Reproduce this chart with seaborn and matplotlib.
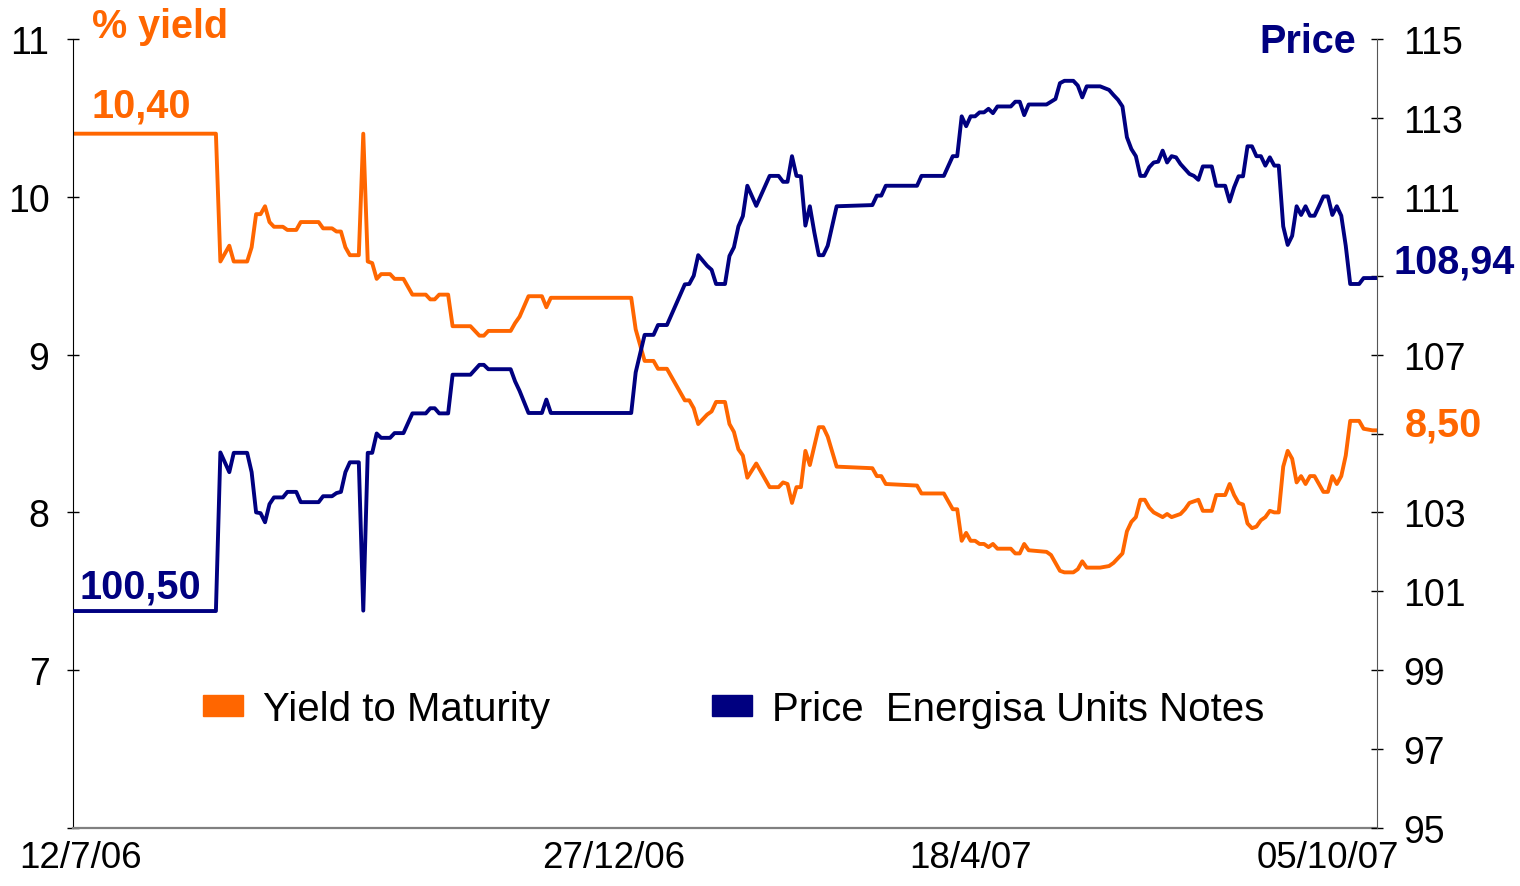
import matplotlib
matplotlib.use("Agg")
import matplotlib.pyplot as plt
from matplotlib.patches import Patch
import seaborn as sns
import pandas as pd

ORANGE = "#FF6600"
NAVY = "#000080"

# trading-day index (0 = 12/7/06) and yield to maturity in %
yield_day = [
    0, 32, 33, 35, 36, 39, 40, 41, 42, 43,
    44, 45, 47, 48, 50, 51, 55, 56, 58, 59,
    60, 61, 62, 64, 65, 66, 67, 68, 69, 71,
    72, 74, 76, 79, 80, 81, 82, 84, 85, 89,
    91, 92, 93, 98, 99, 100, 102, 105, 106, 107,
    125, 126, 127, 128, 130, 131, 133, 137, 138, 139,
    140, 142, 143, 144, 146, 147, 148, 149, 150, 151,
    153, 156, 158, 159, 160, 161, 162, 163, 164, 165,
    167, 168, 169, 171, 179, 180, 181, 182, 189, 190,
    195, 197, 198, 199, 200, 201, 202, 203, 204, 205,
    206, 207, 210, 211, 212, 213, 214, 218, 219, 221,
    222, 224, 225, 226, 227, 230, 232, 233, 234, 235,
    236, 237, 238, 239, 240, 241, 242, 244, 245, 246,
    248, 249, 250, 251, 252, 253, 255, 256, 258, 259,
    260, 261, 262, 263, 264, 265, 266, 267, 268, 269,
    270, 271, 272, 273, 274, 275, 276, 277, 278, 279,
    280, 281, 282, 283, 284, 285, 286, 288, 289, 291,
    292,
]
yield_pct = [
    10.40, 10.40, 9.59, 9.69, 9.59, 9.59, 9.68, 9.89, 9.89, 9.94,
    9.84, 9.81, 9.81, 9.79, 9.79, 9.84, 9.84, 9.80, 9.80, 9.78,
    9.78, 9.68, 9.63, 9.63, 10.40, 9.59, 9.58, 9.48, 9.51, 9.51,
    9.48, 9.48, 9.38, 9.38, 9.35, 9.35, 9.38, 9.38, 9.18, 9.18,
    9.12, 9.12, 9.15, 9.15, 9.20, 9.24, 9.37, 9.37, 9.30, 9.36,
    9.36, 9.16, 9.06, 8.96, 8.96, 8.91, 8.91, 8.71, 8.71, 8.66,
    8.56, 8.62, 8.64, 8.70, 8.70, 8.56, 8.51, 8.40, 8.36, 8.22,
    8.31, 8.16, 8.16, 8.19, 8.18, 8.06, 8.16, 8.16, 8.39, 8.30,
    8.54, 8.54, 8.48, 8.29, 8.28, 8.23, 8.23, 8.18, 8.17, 8.12,
    8.12, 8.02, 8.02, 7.82, 7.87, 7.82, 7.82, 7.80, 7.80, 7.78,
    7.80, 7.77, 7.77, 7.74, 7.74, 7.80, 7.76, 7.75, 7.73, 7.63,
    7.62, 7.62, 7.64, 7.69, 7.65, 7.65, 7.66, 7.68, 7.71, 7.74,
    7.88, 7.94, 7.97, 8.08, 8.08, 8.03, 8.00, 7.97, 7.99, 7.97,
    7.99, 8.02, 8.06, 8.07, 8.08, 8.01, 8.01, 8.11, 8.11, 8.18,
    8.11, 8.06, 8.05, 7.93, 7.90, 7.91, 7.95, 7.97, 8.01, 8.00,
    8.00, 8.29, 8.39, 8.34, 8.19, 8.23, 8.18, 8.23, 8.23, 8.18,
    8.13, 8.13, 8.23, 8.18, 8.23, 8.36, 8.58, 8.58, 8.53, 8.52,
    8.52,
]

# trading-day index and price of the Energisa Units Notes
price_day = [
    0, 32, 33, 35, 36, 39, 40, 41, 42, 43,
    44, 45, 47, 48, 50, 51, 55, 56, 58, 59,
    60, 61, 62, 64, 65, 66, 67, 68, 69, 71,
    72, 74, 76, 79, 80, 81, 82, 84, 85, 89,
    91, 92, 93, 98, 99, 100, 102, 105, 106, 107,
    125, 126, 127, 128, 130, 131, 133, 137, 138, 139,
    140, 142, 143, 144, 146, 147, 148, 149, 150, 151,
    153, 156, 158, 159, 160, 161, 162, 163, 164, 165,
    166, 167, 168, 169, 171, 179, 180, 181, 182, 189,
    190, 195, 197, 198, 199, 200, 201, 202, 203, 204,
    205, 206, 207, 210, 211, 212, 213, 214, 218, 220,
    221, 222, 224, 225, 226, 227, 230, 232, 233, 234,
    235, 236, 237, 238, 239, 240, 241, 242, 243, 244,
    245, 246, 247, 248, 250, 251, 252, 253, 255, 256,
    258, 259, 260, 261, 262, 263, 264, 265, 266, 267,
    268, 269, 270, 271, 272, 273, 274, 275, 276, 277,
    278, 279, 280, 281, 282, 283, 284, 285, 286, 288,
    289, 291, 292,
]
price_value = [
    100.50, 100.50, 104.52, 104.02, 104.51, 104.51, 104.02, 103.00, 102.98, 102.75,
    103.21, 103.38, 103.38, 103.52, 103.52, 103.26, 103.26, 103.41, 103.41, 103.49,
    103.52, 104.02, 104.27, 104.27, 100.51, 104.51, 104.51, 105.00, 104.89, 104.89,
    105.01, 105.01, 105.51, 105.51, 105.64, 105.64, 105.51, 105.51, 106.49, 106.49,
    106.74, 106.74, 106.63, 106.63, 106.32, 106.08, 105.52, 105.52, 105.86, 105.52,
    105.52, 106.55, 107.02, 107.50, 107.50, 107.75, 107.75, 108.78, 108.79, 109.00,
    109.52, 109.25, 109.15, 108.79, 108.79, 109.50, 109.72, 110.25, 110.51, 111.28,
    110.77, 111.53, 111.53, 111.38, 111.38, 112.03, 111.53, 111.52, 110.27, 110.76,
    110.10, 109.52, 109.52, 109.76, 110.76, 110.79, 111.03, 111.03, 111.28, 111.28,
    111.53, 111.53, 112.03, 112.03, 113.04, 112.79, 113.04, 113.04, 113.14, 113.14,
    113.23, 113.12, 113.29, 113.29, 113.41, 113.41, 113.07, 113.34, 113.34, 113.48,
    113.88, 113.94, 113.94, 113.82, 113.52, 113.80, 113.80, 113.71, 113.58, 113.46,
    113.29, 112.51, 112.21, 112.03, 111.53, 111.53, 111.75, 111.87, 111.89, 112.17,
    111.87, 112.03, 112.00, 111.83, 111.58, 111.53, 111.43, 111.77, 111.77, 111.28,
    111.28, 110.88, 111.24, 111.52, 111.52, 112.28, 112.28, 112.03, 112.03, 111.79,
    112.00, 111.79, 111.79, 110.25, 109.78, 110.01, 110.76, 110.54, 110.76, 110.52,
    110.52, 110.76, 111.01, 111.01, 110.54, 110.76, 110.52, 109.76, 108.79, 108.79,
    108.94, 108.94, 108.94,
]

date_labels = ["12/7/06", "27/12/06", "18/4/07", "05/10/07"]
date_label_day = [1.6, 121, 201, 281]

yield_ticks = [6, 7, 8, 9, 10, 11]
yield_tick_labels = ["", "7", "8", "9", "10", "11"]
price_ticks = [95, 97, 99, 101, 103, 105, 107, 109, 111, 113, 115]
# 105 and 109 are covered by the end-value labels
price_tick_labels = ["95", "97", "99", "101", "103", "", "107", "", "111", "113", "115"]

assert len(yield_day) == len(yield_pct)
assert len(price_day) == len(price_value)

sns.set_style("white")
plt.rcParams["font.family"] = ["Liberation Sans", "DejaVu Sans"]
plt.rcParams["text.color"] = "black"

W, H = 1520, 887
fig = plt.figure(figsize=(W / 100, H / 100), dpi=100)
ax = fig.add_axes([73 / W, 1 - 829 / H, (1377 - 73) / W, (829 - 40) / H])
ax2 = ax.twinx()

yield_df = pd.DataFrame({"day": yield_day, "yield": yield_pct})
price_df = pd.DataFrame({"day": price_day, "price": price_value})
sns.lineplot(data=yield_df, x="day", y="yield", ax=ax, color=ORANGE, lw=2.8)
sns.lineplot(data=price_df, x="day", y="price", ax=ax2, color=NAVY, lw=2.8)

ax.set_xlim(0, 292)
ax.set_ylim(6, 11)
ax2.set_ylim(95, 115)
for a in (ax, ax2):
    a.set_xlabel("")
    a.set_ylabel("")
    a.grid(False)
    a.spines["top"].set_visible(False)

ax.spines["left"].set_color("black")
ax.spines["bottom"].set_color("#808080")
ax.spines["bottom"].set_linewidth(1.6)
ax2.spines["right"].set_color("#555555")
ax2.spines["left"].set_visible(False)
ax2.spines["bottom"].set_visible(False)
ax.spines["right"].set_visible(False)

ax.set_xticks(list(range(0, 291, 10)) + [292])
ax.set_xticks(date_label_day, date_labels, minor=True)
ax.tick_params(axis="x", which="major", direction="inout", length=7, width=1,
               color="black", labelbottom=False)
ax.tick_params(axis="x", which="minor", length=0, pad=9, labelsize=26.5,
               labelcolor="black")

ax.set_yticks(yield_ticks, yield_tick_labels)
ax.tick_params(axis="y", direction="inout", length=8, width=1, color="black",
               pad=13, labelsize=27, labelcolor="black", left=True)
ax2.set_yticks(price_ticks, price_tick_labels)
ax2.tick_params(axis="y", direction="inout", length=8, width=1, color="black",
                pad=15, labelsize=27, labelcolor="black", right=True)

bold = dict(fontsize=28.5, fontweight="bold", va="center")
fig.text(92 / W, 1 - 27 / H, "% yield", color=ORANGE, ha="left", **bold)
fig.text(92 / W, 1 - 106 / H, "10,40", color=ORANGE, ha="left", **bold)
fig.text(1356 / W, 1 - 42 / H, "Price", color=NAVY, ha="right", **bold)
fig.text(1393 / W, 1 - 263 / H, "108,94", color=NAVY, ha="left", **bold)
fig.text(1405 / W, 1 - 426 / H, "8,50", color=ORANGE, ha="left", **bold)
fig.text(80 / W, 1 - 588 / H, "100,50", color=NAVY, ha="left", **bold)

handles = [
    Patch(facecolor=ORANGE, edgecolor=ORANGE, label="Yield to Maturity"),
    Patch(facecolor=NAVY, edgecolor=NAVY, label="Price  Energisa Units Notes"),
]
ax2.legend(handles=handles, ncol=2, loc="center left",
           bbox_to_anchor=(203 / W, 1 - 710 / H), bbox_transform=fig.transFigure,
           frameon=False, fontsize=29, labelcolor="black",
           handlelength=1.0, handleheight=0.45,
           handletextpad=0.5, columnspacing=4.0, borderpad=0, borderaxespad=0)

fig.savefig("out.png", dpi=100)
